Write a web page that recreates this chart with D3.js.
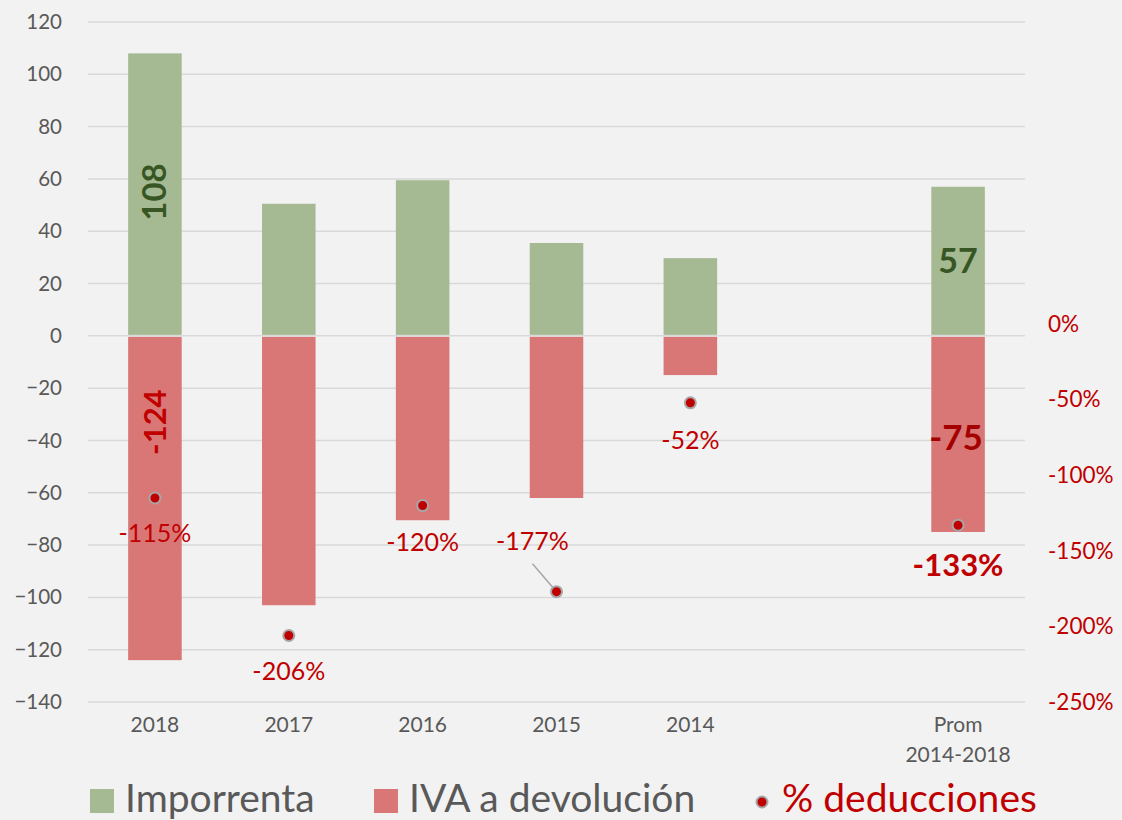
<!DOCTYPE html>
<html>
<head>
<meta charset="utf-8">
<script src="https://cdn.jsdelivr.net/npm/d3@7"></script>
<style>
  body { margin: 0; background: #f2f2f2; }
  text { font-family: Lato, "Open Sans", sans-serif; }
</style>
</head>
<body>
<div id="chart"></div>
<script>
const width = 1122;
const height = 820;

// data
const categories = ["2018", "2017", "2016", "2015", "2014", "", "Prom\n2014-2018"];
const imporrenta = [108, 50.5, 59.5, 35.5, 29.7, null, 57];
const ivaDevolucion = [-124, -103, -70.5, -62, -15, null, -75];
const deducciones = [-1.15, -2.06, -1.20, -1.77, -0.52, null, -1.33];
const leftTicks = [120, 100, 80, 60, 40, 20, 0, -20, -40, -60, -80, -100, -120, -140];
const rightTicks = [0, -0.5, -1, -1.5, -2, -2.5];

const green = "#a5ba93";
const red = "#d97777";
const darkGreen = "#375623";
const darkRed = "#c00000";
const grey = "#595959";

const svg = d3.select("#chart")
  .append("svg")
  .attr("width", width)
  .attr("height", height);

const x = d3.scaleBand()
  .domain(d3.range(categories.length))
  .range([88, 1025])
  .paddingInner(0.6)
  .paddingOuter(0.3);

const y = d3.scaleLinear().domain([-140, 120]).range([702, 22]);
const y2 = d3.scaleLinear().domain([-2.5, 2.0]).range([702, 22]);

// gridlines
svg.append("g")
  .selectAll("line")
  .data(leftTicks)
  .enter()
  .append("line")
  .attr("x1", 88)
  .attr("x2", 1025)
  .attr("y1", d => y(d))
  .attr("y2", d => y(d))
  .attr("stroke", "#d9d9d9")
  .attr("stroke-width", 1.5);

// left axis
const yAxis = svg.append("g")
  .attr("transform", "translate(66,0)")
  .call(d3.axisLeft(y).tickValues(leftTicks).tickSize(0).tickPadding(4));
yAxis.select(".domain").remove();
yAxis.selectAll("text")
  .attr("font-size", 20.5)
  .attr("fill", grey)
  .style("font-family", "Lato, sans-serif");

// right axis
const y2Axis = svg.append("g")
  .attr("transform", "translate(1044,0)")
  .call(d3.axisRight(y2).tickValues(rightTicks).tickSize(0).tickPadding(4)
    .tickFormat(d => Math.round(d * 100) + "%"));
y2Axis.select(".domain").remove();
y2Axis.selectAll("text")
  .attr("font-size", 22.5)
  .attr("fill", darkRed)
  .style("font-family", "Lato, sans-serif");

// bars
const idx = d3.range(categories.length).filter(i => imporrenta[i] !== null);

svg.append("g")
  .selectAll("rect")
  .data(idx)
  .enter()
  .append("rect")
  .attr("x", i => x(i))
  .attr("width", x.bandwidth())
  .attr("y", i => y(imporrenta[i]))
  .attr("height", i => y(0) - y(imporrenta[i]) - 1)
  .attr("fill", green);

svg.append("g")
  .selectAll("rect")
  .data(idx)
  .enter()
  .append("rect")
  .attr("x", i => x(i))
  .attr("width", x.bandwidth())
  .attr("y", i => y(0) + 1)
  .attr("height", i => y(ivaDevolucion[i]) - y(0) - 1)
  .attr("fill", red);

// x labels
const xl = svg.append("g");
categories.forEach((c, i) => {
  const t = xl.append("text")
    .attr("x", x(i) + x.bandwidth() / 2)
    .attr("y", 732)
    .attr("text-anchor", "middle")
    .attr("font-size", 21)
    .attr("fill", grey);
  c.split("\n").forEach((line, k) => {
    t.append("tspan")
      .attr("x", x(i) + x.bandwidth() / 2)
      .attr("dy", k === 0 ? 0 : 30)
      .text(line);
  });
});

const cx = i => x(i) + x.bandwidth() / 2;

// bar value labels
svg.append("text")
  .attr("transform", `translate(${cx(0) + 11},${y(55)}) rotate(-90)`)
  .attr("text-anchor", "middle")
  .attr("font-size", 33)
  .attr("font-weight", "bold")
  .attr("fill", darkGreen)
  .text(imporrenta[0]);

svg.append("text")
  .attr("transform", `translate(${cx(0) + 11},${y(-33)}) rotate(-90)`)
  .attr("text-anchor", "middle")
  .attr("font-size", 31)
  .attr("font-weight", "bold")
  .attr("fill", darkRed)
  .text(ivaDevolucion[0]);

svg.append("text")
  .attr("x", cx(6))
  .attr("y", y(28.5) + 12)
  .attr("text-anchor", "middle")
  .attr("font-size", 34)
  .attr("font-weight", "bold")
  .attr("fill", darkGreen)
  .text(imporrenta[6]);

svg.append("text")
  .attr("x", cx(6) - 2)
  .attr("y", y(-39) + 12)
  .attr("text-anchor", "middle")
  .attr("font-size", 35)
  .attr("font-weight", "bold")
  .attr("fill", "#a50000")
  .text(ivaDevolucion[6]);

// percent label offsets (relative to dot)
const pctOffsets = [[0, 44], [0, 44], [0, 45], [-24, -42], [0, 46], null, [0, 51]];

// leader line for 2015
svg.append("line")
  .attr("x1", cx(3) - 24)
  .attr("y1", y2(deducciones[3]) - 28)
  .attr("x2", cx(3))
  .attr("y2", y2(deducciones[3]))
  .attr("stroke", "#a6a6a6")
  .attr("stroke-width", 1.5);

// dots
svg.append("g")
  .selectAll("circle")
  .data(idx)
  .enter()
  .append("circle")
  .attr("cx", cx)
  .attr("cy", i => y2(deducciones[i]))
  .attr("r", 5.5)
  .attr("fill", darkRed)
  .attr("stroke", "#a6a6a6")
  .attr("stroke-width", 2);

svg.append("g")
  .selectAll("text")
  .data(idx)
  .enter()
  .append("text")
  .attr("x", i => cx(i) + pctOffsets[i][0])
  .attr("y", i => y2(deducciones[i]) + pctOffsets[i][1])
  .attr("text-anchor", "middle")
  .attr("font-size", i => i === 6 ? 31 : 25)
  .attr("font-weight", i => i === 6 ? "bold" : "normal")
  .attr("fill", darkRed)
  .text(i => Math.round(deducciones[i] * 100) + "%");

// legend
const legend = svg.append("g");
legend.append("rect").attr("x", 90).attr("y", 789).attr("width", 24).attr("height", 24).attr("fill", green);
legend.append("text").attr("x", 125).attr("y", 812).attr("font-size", 39).attr("fill", grey).text("Imporrenta");
legend.append("rect").attr("x", 374).attr("y", 789).attr("width", 24).attr("height", 24).attr("fill", red);
legend.append("text").attr("x", 409).attr("y", 812).attr("font-size", 39).attr("fill", grey).text("IVA a devolución");
legend.append("circle").attr("cx", 762).attr("cy", 802).attr("r", 5.5)
  .attr("fill", darkRed).attr("stroke", "#a6a6a6").attr("stroke-width", 2);
legend.append("text").attr("x", 782).attr("y", 812).attr("font-size", 39).attr("fill", darkRed).text("% deducciones");
</script>
</body>
</html>
